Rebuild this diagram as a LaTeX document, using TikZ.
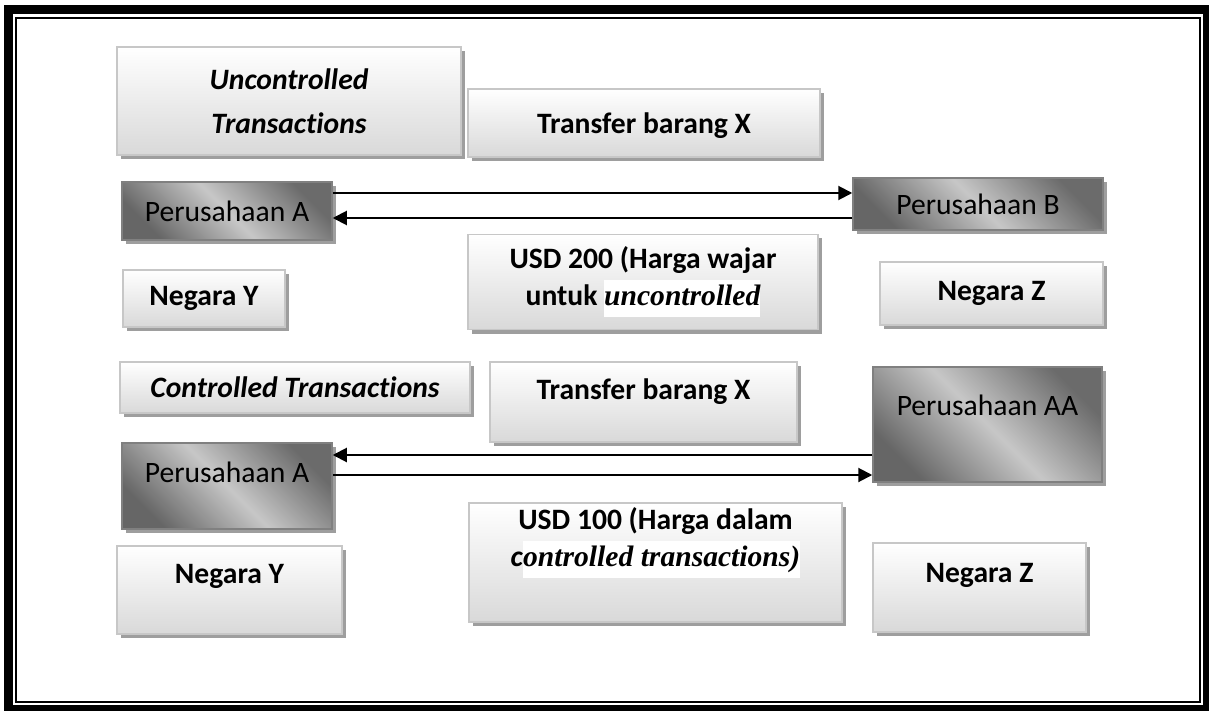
\documentclass[tikz,border=0pt]{standalone}
\usepackage{fontspec}
\setmainfont{Carlito}[Ligatures=NoCommon]
\newfontfamily\tnr{Liberation Serif}
\usetikzlibrary{arrows.meta,shadows}

% white patch behind the serif words
\newcommand\wbg[1]{{\setlength{\fboxsep}{0pt}\colorbox{white}{\strut#1}}}

\begin{document}
\begin{tikzpicture}[x=0.5pt,y=-0.5pt,
    lbox/.style={draw=black!22, line width=0.75pt, top color=white, bottom color=black!15,
      inner sep=0pt, align=center, font=\fontsize{14.8}{22}\selectfont\bfseries,
      drop shadow={shadow xshift=2pt, shadow yshift=-2pt, fill=black!38, opacity=1}},
    dbox/.style={draw=black!50, line width=0.75pt, top color=black!58, bottom color=black!60,
      middle color=black!22, shading angle=-45, inner sep=0pt, align=center,
      font=\fontsize{14.8}{22}\selectfont,
      drop shadow={shadow xshift=2pt, shadow yshift=-2pt, fill=black!38, opacity=1}},
    link/.style={-{Triangle[length=7pt,width=7pt]}, line width=1pt}]
    \useasboundingbox (0,0) rectangle (1209,711);

    % frame
    \draw[line width=4.5pt] (8,9.5) rectangle (1207.5,709);
    \draw[line width=1pt] (16,18) rectangle (1199.5,702);

    % uncontrolled
    \node[lbox, minimum width=172pt, minimum height=54pt] (uncT) at (289,101) {\itshape Uncontrolled\\\itshape Transactions};
    \node[lbox, minimum width=176pt, minimum height=34pt, text height=13pt] (trfA) at (644,123) {Transfer barang X};
    \node[dbox, minimum width=105pt, minimum height=29pt] (perA) at (227,211) {Perusahaan A};
    \node[dbox, minimum width=125pt, minimum height=26pt] (perB) at (978,204) {Perusahaan B};
    \node[lbox, minimum width=81pt, minimum height=28.5pt] (negY) at (204,298.5) {Negara Y};
    \node[lbox, minimum width=175pt, minimum height=47.5pt, font=\fontsize{14.8}{18.5}\selectfont\bfseries] (usdA) at (643,282)
        {USD 200 (Harga wajar\\untuk \wbg{\tnr\itshape uncontrolled}};
    \node[lbox, minimum width=111.5pt, minimum height=31.5pt] (negZ) at (991.5,293.5) {Negara Z};

    % controlled
    \node[lbox, minimum width=175pt, minimum height=25.5pt] (conT) at (295,387.5) {\itshape Controlled Transactions};
    \node[lbox, minimum width=153.5pt, minimum height=40pt, text depth=13pt] (trfB) at (643.5,402) {Transfer barang X};
    \node[dbox, minimum width=114.5pt, minimum height=57.5pt, text depth=19.5pt] (perAA) at (987.5,424.5) {Perusahaan AA};
    \node[dbox, minimum width=105pt, minimum height=43pt, text depth=14pt] (perAb) at (227,486) {Perusahaan A};
    \node[lbox, minimum width=112.5pt, minimum height=44pt, text depth=16pt] (negYb) at (229.5,590) {Negara Y};
    \node[lbox, minimum width=186.5pt, minimum height=59.5pt, text depth=25pt, font=\fontsize{14.8}{18.5}\selectfont\bfseries] (usdB) at (655.5,562.5)
        {USD 100 (Harga dalam\\\textit{c}\wbg{\tnr\itshape ontrolled transactions)}};
    \node[lbox, minimum width=106.5pt, minimum height=44.5pt, text depth=14.5pt] (negZb) at (979.5,587.5) {Negara Z};

    % arrows
    \coordinate (ab) at ([yshift=9pt]perA.east);
    \coordinate (ba) at ([yshift=-7pt]perB.west);
    \draw[link] (ab) -- (ab -| perB.west);
    \draw[link] (ba) -- (ba -| perA.east);
    \coordinate (aaa) at ([yshift=-15.25pt]perAA.west);
    \coordinate (aab) at ([yshift=5.5pt]perAb.east);
    \draw[link] (aaa) -- (aaa -| perAb.east);
    \draw[link] (aab) -- (aab -| perAA.west);
\end{tikzpicture}
\end{document}
